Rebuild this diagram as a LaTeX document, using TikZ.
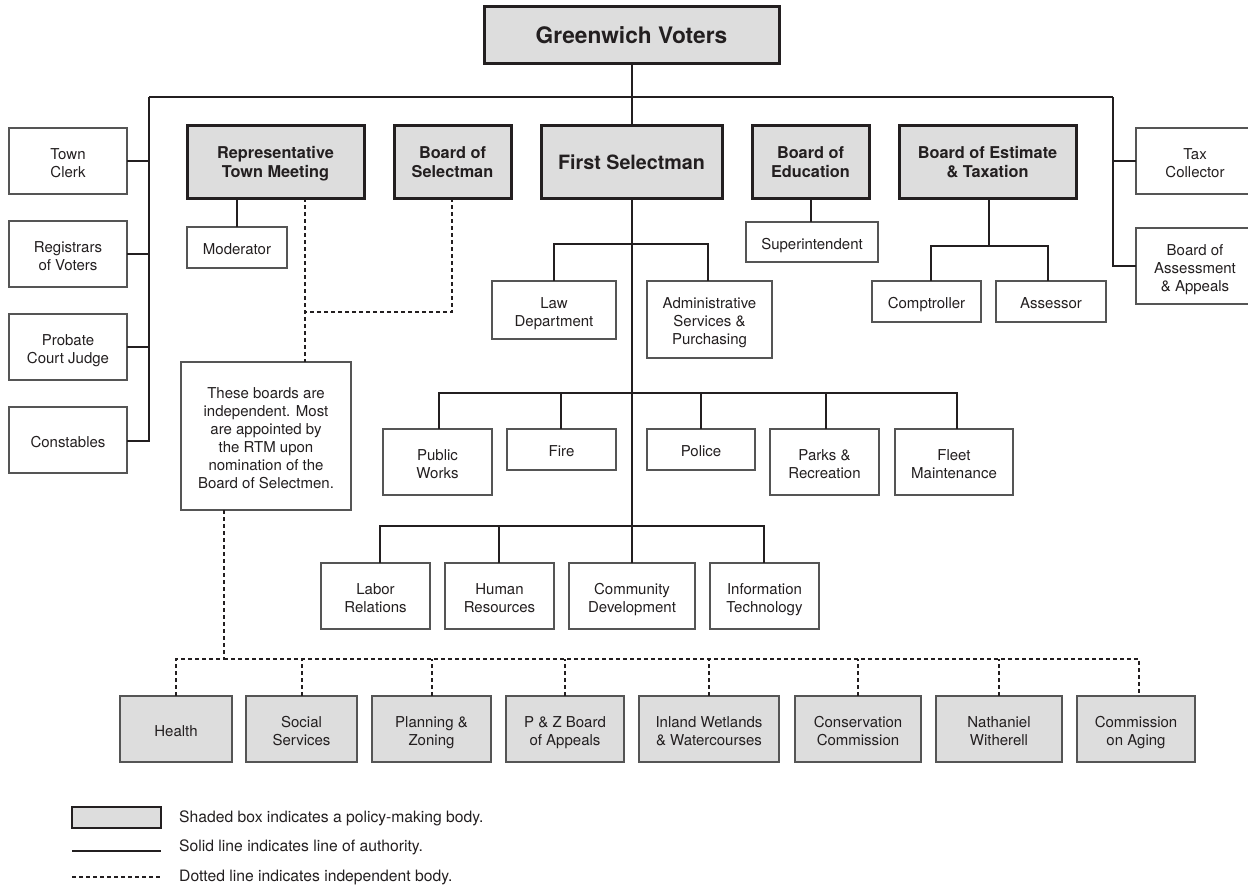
\documentclass[tikz,border=0pt]{standalone}
\usepackage{fontspec}
\setmainfont{TeX Gyre Heros}
\definecolor{ink}{RGB}{35,31,32}
\definecolor{edge}{RGB}{85,85,85}
\definecolor{shade}{RGB}{221,221,221}
\newcommand\tb[1]{\rule{0pt}{0.96em}#1\rule[-0.24em]{0pt}{0.24em}}
\newcommand\tx[1]{\rule{0pt}{1.18em}#1\rule[-0.24em]{0pt}{0.24em}}
\tikzset{
  box/.style={draw=edge, line width=1.3pt, fill=white, align=center, inner sep=0pt, outer sep=0pt, text=ink, font=\fontsize{15}{18}\selectfont},
  pbox/.style={draw=ink, line width=3pt, fill=shade, align=center, inner sep=0pt, outer sep=0pt, text=ink, font=\bfseries\fontsize{16.3}{19.5}\selectfont},
  sbox/.style={draw=edge, line width=1.4pt, fill=shade, align=center, inner sep=0pt, outer sep=0pt, text=ink, font=\fontsize{15}{18}\selectfont},
  mainline/.style={draw=ink, line width=2.6pt},
  subline/.style={draw=ink, line width=1.6pt},
  dsh/.style={draw=ink, line width=1.4pt, dash pattern=on 4pt off 3pt},
  ltxt/.style={anchor=west, inner sep=0pt, text=ink, font=\fontsize{15.7}{18}\selectfont},
}
\begin{document}
\begin{tikzpicture}[x=1pt,y=-1pt]
\useasboundingbox (0,0) rectangle (1248,888);
\clip (0,0) rectangle (1248,888);
% coordinates for junctions
\coordinate (barL) at (149,97);
\coordinate (barR) at (1113,97);
\coordinate (trunk) at (632,97);
\coordinate (j1) at (632,244);
\coordinate (j2) at (632,393);
\coordinate (j3) at (632,526);
\coordinate (j4) at (989,246);
\coordinate (d1) at (305,312);
\coordinate (d2) at (224,659);
% top
\node[pbox, minimum width=295, minimum height=57, font=\bfseries\fontsize{22.7}{26}\selectfont] (gv) at (631.5,35.5) {\tb{Greenwich Voters}};
\node[pbox, minimum width=177, minimum height=72] (rtm) at (275.5,162) {\tb{Representative\\Town Meeting}};
\node[pbox, minimum width=117, minimum height=72] (bos) at (452.5,162) {\tb{Board of\\Selectman}};
\node[pbox, minimum width=181, minimum height=72, font=\bfseries\fontsize{19.7}{23}\selectfont] (fs) at (631.5,162) {\tb{First Selectman}};
\node[pbox, minimum width=117, minimum height=72] (boe) at (810.5,162) {\tb{Board of\\Education}};
\node[pbox, minimum width=177, minimum height=72] (bet) at (987.5,162) {\tb{Board of Estimate\\\& Taxation}};
% left column
\node[box, minimum width=118, minimum height=66] (tc) at (68,161) {\tx{Town\\Clerk}};
\node[box, minimum width=118, minimum height=66] (reg) at (68,254) {\tx{Registrars\\of Voters}};
\node[box, minimum width=118, minimum height=66] (prob) at (68,347) {\tx{Probate\\Court Judge}};
\node[box, minimum width=118, minimum height=66] (con) at (68,440) {\tx{Constables}};
% right column
\node[box, minimum width=118, minimum height=66] (tax) at (1195,161) {\tx{Tax\\Collector}};
\node[box, minimum width=118, minimum height=76] (baa) at (1195,266) {\tx{Board of\\Assessment\\\& Appeals}};
% second level
\node[box, minimum width=100, minimum height=41] (mod) at (237,247.5) {\tx{Moderator}};
\node[box, minimum width=132, minimum height=40] (sup) at (812,242) {\tx{Superintendent}};
\node[box, minimum width=124, minimum height=58] (law) at (554,310) {\tx{Law\\Department}};
\node[box, minimum width=125, minimum height=77] (adm) at (709.5,319.5) {\tx{Administrative\\Services \&\\Purchasing}};
\node[box, minimum width=109, minimum height=41] (comp) at (926.5,301.5) {\tx{Comptroller}};
\node[box, minimum width=110, minimum height=41] (ass) at (1051,301.5) {\tx{Assessor}};
\node[box, minimum width=170, minimum height=148] (note) at (266,436) {\tx{These boards are\\independent. Most\\are appointed by\\the RTM upon\\nomination of the\\Board of Selectmen.}};
% row 1
\node[box, minimum width=109, minimum height=66] (pw) at (437.5,462) {\tx{Public\\Works}};
\node[box, minimum width=109, minimum height=41] (fire) at (561.5,449.5) {\tx{Fire}};
\node[box, minimum width=108, minimum height=41] (pol) at (701,449.5) {\tx{Police}};
\node[box, minimum width=109, minimum height=66] (parks) at (824.5,462) {\tx{Parks \&\\Recreation}};
\node[box, minimum width=118, minimum height=66] (fleet) at (954,462) {\tx{Fleet\\Maintenance}};
% row 2
\node[box, minimum width=109, minimum height=66] (lab) at (375.5,596) {\tx{Labor\\Relations}};
\node[box, minimum width=109, minimum height=66] (hr) at (499.5,596) {\tx{Human\\Resources}};
\node[box, minimum width=126, minimum height=66] (cd) at (632,596) {\tx{Community\\Development}};
\node[box, minimum width=109, minimum height=66] (it) at (764.5,596) {\tx{Information\\Technology}};
% bottom independent boards
\node[sbox, minimum width=112, minimum height=66] (health) at (176,729) {\tx{Health}};
\node[sbox, minimum width=111, minimum height=66] (social) at (301.5,729) {\tx{Social\\Services}};
\node[sbox, minimum width=119, minimum height=66] (plan) at (431.5,729) {\tx{Planning \&\\Zoning}};
\node[sbox, minimum width=118, minimum height=66] (pz) at (565,729) {\tx{P \& Z Board\\of Appeals}};
\node[sbox, minimum width=140, minimum height=66] (inland) at (709,729) {\tx{Inland Wetlands\\\& Watercourses}};
\node[sbox, minimum width=126, minimum height=66] (cons) at (858,729) {\tx{Conservation\\Commission}};
\node[sbox, minimum width=126, minimum height=66] (nat) at (999,729) {\tx{Nathaniel\\Witherell}};
\node[sbox, minimum width=118, minimum height=66] (aging) at (1136,729) {\tx{Commission\\on Aging}};
% main authority lines
\draw[mainline] (gv.south -| trunk) -- (fs.north -| trunk);
\draw[mainline] (barL) -- (barR);
\draw[mainline] (tc.east) -| (barL);
\draw[mainline] (reg.east) -| (barL);
\draw[mainline] (prob.east) -| (barL);
\draw[mainline] ([yshift=-1pt]con.east) -| (barL);
\draw[mainline] (tax.west) -| (barR);
\draw[mainline] (baa.west) -| (barR);
% sub lines
\draw[subline] (fs.south -| trunk) -- (cd.north -| trunk);
\draw[subline] (law.north) |- (j1) -| ([xshift=-1.5pt]adm.north);
\draw[subline] ([xshift=1.5pt]pw.north) |- (j2) -| ([xshift=3pt]fleet.north);
\draw[subline] ([xshift=-0.5pt]fire.north) -- ([xshift=-0.5pt]fire.north |- j2);
\draw[subline] (pol.north) -- (pol.north |- j2);
\draw[subline] ([xshift=1.5pt]parks.north) -- ([xshift=1.5pt]parks.north |- j2);
\draw[subline] ([xshift=4.5pt]lab.north) |- (j3) -| ([xshift=-0.5pt]it.north);
\draw[subline] ([xshift=-0.5pt]hr.north) -- ([xshift=-0.5pt]hr.north |- j3);
\draw[subline] (j4 |- bet.south) -- (j4);
\draw[subline] ([xshift=4.5pt]comp.north) |- (j4) -| ([xshift=-3pt]ass.north);
\draw[subline] ([xshift=0.5pt]boe.south) -- ([xshift=0.5pt]boe.south |- sup.north);
\draw[subline] (mod.north) -- (mod.north |- rtm.south);
% dashed independent lines
\draw[dsh] (rtm.south -| d1) -- (note.north -| d1);
\draw[dsh] ([xshift=-0.5pt]bos.south) |- (d1);
\draw[dsh] (note.south -| d2) -- (d2);
\draw[dsh] (health.north) |- (d2);
\draw[dsh] (d2) -| ([xshift=3pt]aging.north);
\draw[dsh] ([xshift=0.5pt]social.north) -- ([xshift=0.5pt]social.north |- d2);
\draw[dsh] ([xshift=0.5pt]plan.north) -- ([xshift=0.5pt]plan.north |- d2);
\draw[dsh] (pz.north) -- (pz.north |- d2);
\draw[dsh] (inland.north) -- (inland.north |- d2);
\draw[dsh] (cons.north) -- (cons.north |- d2);
\draw[dsh] (nat.north) -- (nat.north |- d2);
% legend
\node[draw=ink, line width=2pt, fill=shade, inner sep=0pt, minimum width=89, minimum height=21] (lg1) at (116.5,817.5) {};
\coordinate (ls1) at (72,851);
\coordinate (ls2) at (161,851);
\coordinate (lq1) at (72,877);
\coordinate (lq2) at (161,877);
\draw[draw=ink, line width=1.6pt] (ls1) -- (ls2);
\draw[dsh] (lq1) -- (lq2);
\node[ltxt] (lt1) at (179,818) {Shaded box indicates a policy-making body.};
\node[ltxt] (lt2) at (179,847) {Solid line indicates line of authority.};
\node[ltxt] (lt3) at (179,877) {Dotted line indicates independent body.};
\end{tikzpicture}
\end{document}
